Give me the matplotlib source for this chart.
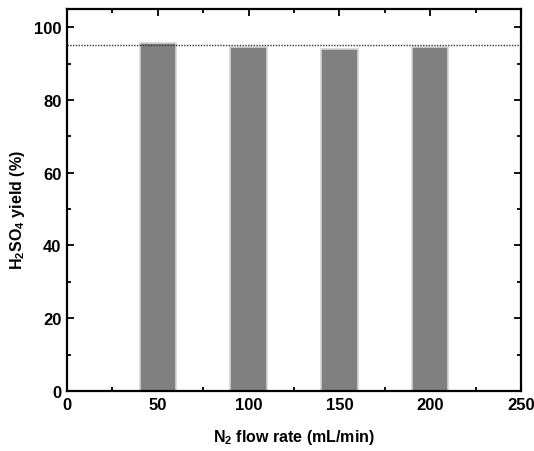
import matplotlib
matplotlib.use("Agg")
import matplotlib.pyplot as plt

# data
flow_rate = [50, 100, 150, 200]
yield_pct = [95.6, 94.5, 94.0, 94.6]
ref_level = 95.0

plt.rcParams["font.family"] = ["Liberation Sans", "DejaVu Sans"]
plt.rcParams["font.weight"] = "bold"
plt.rcParams["mathtext.fontset"] = "custom"
plt.rcParams["mathtext.rm"] = "Liberation Sans:bold"
plt.rcParams["mathtext.bf"] = "Liberation Sans:bold"
plt.rcParams["mathtext.it"] = "Liberation Sans:bold"

fig = plt.figure(figsize=(5.34, 4.52), dpi=100)
ax = fig.add_axes([0.1255, 0.1327, 0.8502, 0.8452])

ax.bar(flow_rate, yield_pct, width=20, color="#808080",
       edgecolor="#d4d4d4", linewidth=1.2, zorder=2)
ax.axhline(ref_level, ls=(0, (1, 1)), color="#333333", lw=1.0, zorder=3)

ax.set_xlim(0, 250)
ax.set_ylim(0, 105)
ax.set_xticks([0, 50, 100, 150, 200, 250])
ax.set_xticks([25, 75, 125, 175, 225], minor=True)
ax.set_yticks([0, 20, 40, 60, 80, 100])
ax.set_yticks([10, 30, 50, 70, 90], minor=True)

ax.tick_params(which="both", direction="in", top=True, right=True,
               width=1.3, labelsize=12)
ax.tick_params(which="major", length=5, pad=4)
ax.tick_params(which="minor", length=3)
for lab in ax.get_xticklabels() + ax.get_yticklabels():
    lab.set_fontweight("bold")
for s in ax.spines.values():
    s.set_linewidth(1.6)

ax.set_xlabel(r"N$_2$ flow rate (mL/min)", fontsize=11.5, fontweight="bold", labelpad=11)
ax.set_ylabel(r"H$_2$SO$_4$ yield (%)", fontsize=11.5, fontweight="bold")
ax.yaxis.set_label_coords(-0.088, 0.476)

fig.savefig("out.png", dpi=100)
